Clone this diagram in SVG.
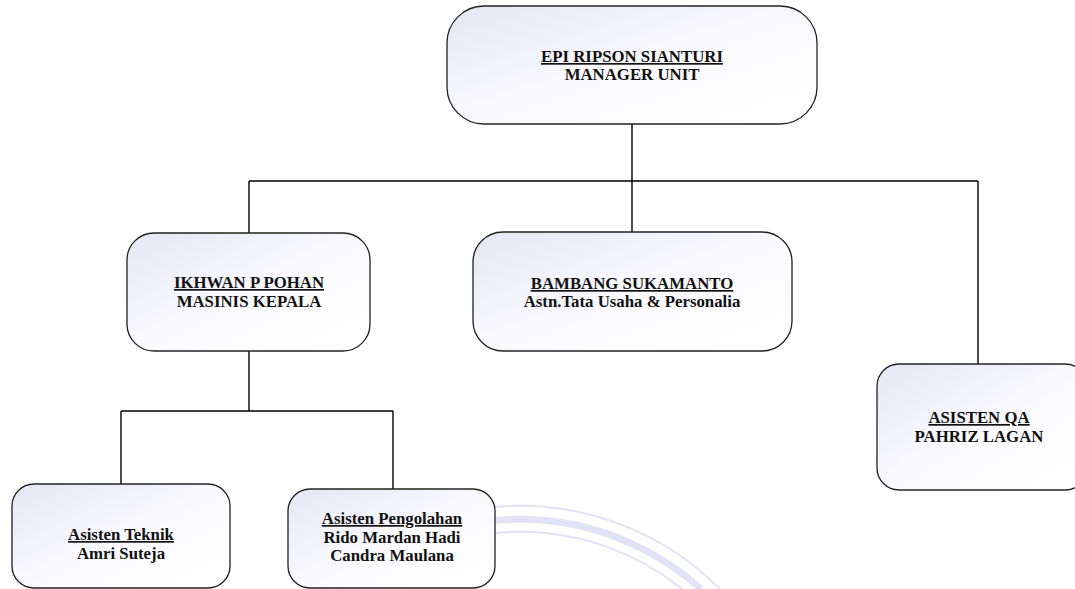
<svg xmlns="http://www.w3.org/2000/svg" width="1075" height="589" viewBox="0 0 1075 589">
<defs>
<linearGradient id="g" x1="0" y1="0" x2="1" y2="1">
<stop offset="0" stop-color="#e6e6f5"/>
<stop offset="0.55" stop-color="#fbfbfe"/>
<stop offset="1" stop-color="#ffffff"/>
</linearGradient>
<style>
.box{fill:url(#g);stroke:#222;stroke-width:1.3}
.t{font-family:"Liberation Serif","Times New Roman",serif;font-weight:bold;font-size:16.8px;fill:#111;text-anchor:middle}
.u{text-decoration:underline}
.c{fill:none;stroke:#000;stroke-width:1.4}
.wm{fill:none;stroke:#e2e2f6}
</style>
</defs>
<rect width="1075" height="589" fill="#fff"/>
<g id="watermark">
<path class="wm" stroke-width="7" d="M339,589 A270,270 0 0 1 701,589"/>
<path class="wm" stroke-width="2" d="M320,589 A282,282 0 0 1 720,589"/>
<path class="wm" stroke-width="2" d="M358,589 A258,258 0 0 1 682,589"/>
</g>
<g id="connectors">
<path class="c" d="M632,124 V181 M249,181 H978 M249,181 V233 M632,181 V232 M978,181 V364"/>
<path class="c" d="M249,351 V411 M121,411 H393 M121,411 V484 M393,411 V489"/>
</g>
<g id="n-manager">
<rect class="box" x="447" y="6" width="370" height="118" rx="37"/>
<text class="t u" x="632" y="62">EPI RIPSON SIANTURI</text>
<text class="t" x="632" y="80">MANAGER UNIT</text>
</g>
<g id="n-masinis">
<rect class="box" x="127" y="233" width="243" height="118" rx="27"/>
<text class="t u" x="249" y="288">IKHWAN P POHAN</text>
<text class="t" x="249" y="307">MASINIS KEPALA</text>
</g>
<g id="n-tatausaha">
<rect class="box" x="473" y="232" width="319" height="119" rx="30"/>
<text class="t u" x="632" y="289">BAMBANG SUKAMANTO</text>
<text class="t" x="632" y="307">Astn.Tata Usaha &amp; Personalia</text>
</g>
<g id="n-qa">
<rect class="box" x="877" y="364" width="210" height="126" rx="22"/>
<text class="t u" x="979" y="423">ASISTEN QA</text>
<text class="t" x="979" y="442">PAHRIZ LAGAN</text>
</g>
<g id="n-teknik">
<rect class="box" x="12" y="484" width="218" height="104" rx="22"/>
<text class="t u" x="121" y="540">Asisten Teknik</text>
<text class="t" x="121" y="559">Amri Suteja</text>
</g>
<g id="n-pengolahan">
<rect class="box" x="288" y="489" width="207" height="99" rx="22"/>
<text class="t u" x="392" y="524">Asisten Pengolahan</text>
<text class="t" x="392" y="543">Rido Mardan Hadi</text>
<text class="t" x="392" y="561">Candra Maulana</text>
</g>
</svg>
